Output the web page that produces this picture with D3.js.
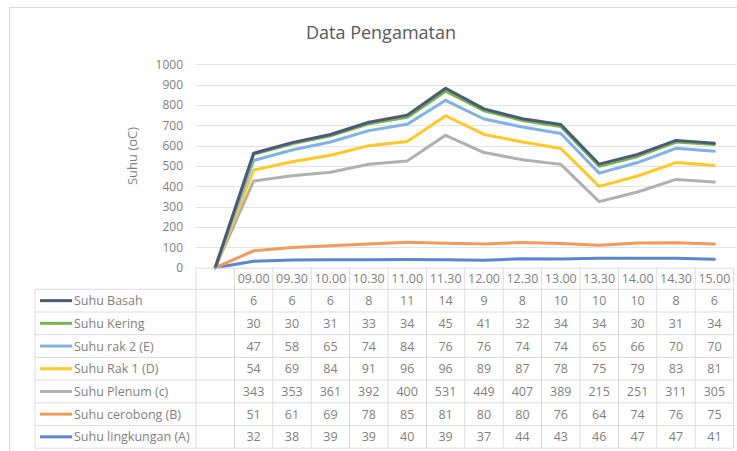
<!DOCTYPE html>
<html>
<head>
<meta charset="utf-8">
<script src="https://cdnjs.cloudflare.com/ajax/libs/d3/7.8.5/d3.min.js"></script>
<style>
  body { margin: 0; background: #fff; }
  svg { display: block; font-family: "Open Sans", sans-serif; }
</style>
</head>
<body>
<div id="chart"></div>
<script>
// categories (first one is an empty column in the data table)
var categories = ["", "09.00", "09.30", "10.00", "10.30", "11.00", "11.30", "12.00", "12.30", "13.00", "13.30", "14.00", "14.30", "15.00"];

// series values (null = blank cell, plotted as 0)
var suhuBasah      = [null, 6, 6, 6, 8, 11, 14, 9, 8, 10, 10, 10, 8, 6];
var suhuKering     = [null, 30, 30, 31, 33, 34, 45, 41, 32, 34, 34, 30, 31, 34];
var suhuRak2       = [null, 47, 58, 65, 74, 84, 76, 76, 74, 74, 65, 66, 70, 70];
var suhuRak1       = [null, 54, 69, 84, 91, 96, 96, 89, 87, 78, 75, 79, 83, 81];
var suhuPlenum     = [null, 343, 353, 361, 392, 400, 531, 449, 407, 389, 215, 251, 311, 305];
var suhuCerobong   = [null, 51, 61, 69, 78, 85, 81, 80, 80, 76, 64, 74, 76, 75];
var suhuLingkungan = [null, 32, 38, 39, 39, 40, 39, 37, 44, 43, 46, 47, 47, 41];

var yTicks = [0, 100, 200, 300, 400, 500, 600, 700, 800, 900, 1000];

// table order (top to bottom); stack order is the reverse
var series = [
  { name: "Suhu Basah",          values: suhuBasah,      color: "#4a5a78" },
  { name: "Suhu Kering",         values: suhuKering,     color: "#78b450" },
  { name: "Suhu rak 2 (E)",      values: suhuRak2,       color: "#7fb3e3" },
  { name: "Suhu Rak 1 (D)",      values: suhuRak1,       color: "#ffc825" },
  { name: "Suhu Plenum (c)",     values: suhuPlenum,     color: "#b0b0b0" },
  { name: "Suhu cerobong (B)",   values: suhuCerobong,   color: "#f29a5e" },
  { name: "Suhu lingkungan (A)", values: suhuLingkungan, color: "#5b87d0" }
];

var W = 737, H = 451;
var plotLeft = 196, plotRight = 733.6, plotTop = 64.3, plotBottom = 267.7;
var rowTop = 289.3, rowH = 22.7, tableLeft = 35;

var svg = d3.select("#chart").append("svg")
  .attr("width", W).attr("height", H);

// chart border
svg.append("rect")
  .attr("x", 9.5).attr("y", 7.5)
  .attr("width", 740).attr("height", 470)
  .attr("fill", "#fff").attr("stroke", "#d9d9d9");

// title
svg.append("text")
  .attr("x", 381).attr("y", 39)
  .attr("text-anchor", "middle")
  .attr("font-size", 18).attr("fill", "#595959")
  .text("Data Pengamatan");

var x = d3.scaleBand().domain(categories).range([plotLeft, plotRight]).padding(0);
var cx = function(c) { return x(c) + x.bandwidth() / 2; };
var y = d3.scaleLinear().domain([0, 1000]).range([plotBottom, plotTop]);

// gridlines
svg.append("g").selectAll("line").data(yTicks.slice(1)).enter().append("line")
  .attr("x1", plotLeft).attr("x2", 736)
  .attr("y1", function(d) { return Math.round(y(d)) + 0.5; })
  .attr("y2", function(d) { return Math.round(y(d)) + 0.5; })
  .attr("stroke", "#e3e3e3").attr("stroke-width", 1.2);

// y axis labels
var yAxis = svg.append("g")
  .attr("transform", "translate(" + plotLeft + ",0)")
  .call(d3.axisLeft(y).tickValues(yTicks).tickSize(0).tickPadding(13).tickFormat(d3.format("d")));
yAxis.select(".domain").remove();
yAxis.selectAll("text")
  .attr("font-family", "Open Sans, sans-serif")
  .attr("font-size", 12).attr("fill", "#7f7f7f");

// y axis title
svg.append("text")
  .attr("transform", "translate(137,156) rotate(-90)")
  .attr("text-anchor", "middle")
  .attr("font-size", 13).attr("fill", "#7f7f7f")
  .text("Suhu (oC)");

// stacked values
var rows = categories.map(function(c, i) {
  var r = { cat: c };
  series.forEach(function(s) { r[s.name] = s.values[i] == null ? 0 : s.values[i]; });
  return r;
});
var keys = series.map(function(s) { return s.name; }).reverse();
var stacked = d3.stack().keys(keys)(rows);

var line = d3.line()
  .x(function(d) { return cx(d.data.cat); })
  .y(function(d) { return y(d[1]); });

svg.append("g").selectAll("path").data(stacked).enter().append("path")
  .attr("d", line)
  .attr("fill", "none")
  .attr("stroke", function(d) { return series.find(function(s) { return s.name === d.key; }).color; })
  .attr("stroke-width", 3)
  .attr("stroke-linejoin", "round")
  .attr("stroke-linecap", "round");

// data table
var grid = "#dcdcdc";
var tbl = svg.append("g");
var tableBottom = rowTop + rowH * series.length;

// header row box
tbl.append("line").attr("x1", plotLeft).attr("x2", plotRight)
  .attr("y1", plotBottom + 0.5).attr("y2", plotBottom + 0.5)
  .attr("stroke", grid);
// horizontal lines
d3.range(series.length + 1).forEach(function(i) {
  tbl.append("line")
    .attr("x1", tableLeft).attr("x2", plotRight)
    .attr("y1", rowTop + i * rowH).attr("y2", rowTop + i * rowH)
    .attr("stroke", grid);
});
// vertical lines
tbl.append("line").attr("x1", tableLeft).attr("x2", tableLeft)
  .attr("y1", rowTop).attr("y2", tableBottom).attr("stroke", grid);
categories.forEach(function(c) {
  tbl.append("line").attr("x1", x(c)).attr("x2", x(c))
    .attr("y1", plotBottom).attr("y2", tableBottom).attr("stroke", grid);
});
tbl.append("line").attr("x1", plotRight).attr("x2", plotRight)
  .attr("y1", plotBottom).attr("y2", tableBottom).attr("stroke", grid);

// header labels
tbl.selectAll("text.hdr").data(categories).enter().append("text")
  .attr("class", "hdr")
  .attr("x", cx).attr("y", plotBottom + 15)
  .attr("text-anchor", "middle")
  .attr("font-size", 12.5).attr("fill", "#7f7f7f")
  .text(function(d) { return d; });

// series rows
series.forEach(function(s, i) {
  var ry = rowTop + i * rowH + rowH / 2;
  tbl.append("line")
    .attr("x1", 40).attr("x2", 72).attr("y1", ry).attr("y2", ry)
    .attr("stroke", s.color).attr("stroke-width", 3);
  tbl.append("text")
    .attr("x", 74).attr("y", ry + 4.5)
    .attr("font-size", 12.5).attr("fill", "#7f7f7f")
    .text(s.name);
  tbl.selectAll(null).data(s.values).enter().append("text")
    .attr("x", function(d, j) { return cx(categories[j]); })
    .attr("y", ry + 4.5)
    .attr("text-anchor", "middle")
    .attr("font-size", 12.5).attr("fill", "#7f7f7f")
    .text(function(d) { return d == null ? "" : d; });
});
</script>
</body>
</html>
